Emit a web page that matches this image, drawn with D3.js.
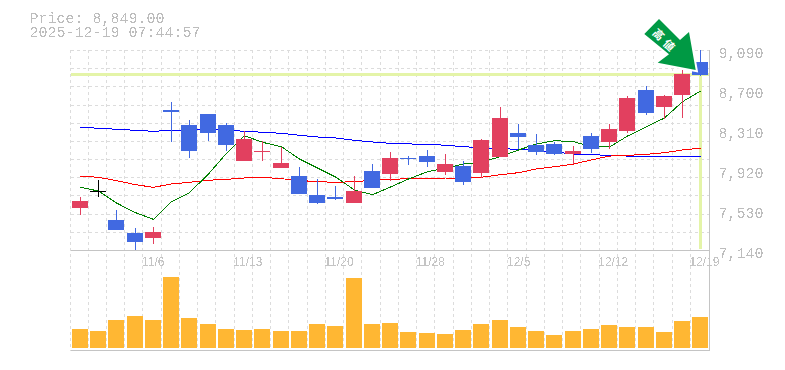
<!DOCTYPE html>
<html lang="en">
<head>
    <meta charset="UTF-8">
    <title>Price chart</title>
    <script src="https://d3js.org/d3.v7.min.js"></script>
    <style>
        body { margin: 0; background: #fff; }
        svg { display: block; }
        .mono { font-family: "Liberation Mono", monospace; font-size: 15px; fill: #bdbdbd; }
        .date { font-family: "Liberation Sans", sans-serif; font-size: 12px; fill: #c4c4c4; }
    </style>
</head>
<body>
    <div id="chart"></div>
    <script>
        const dates = ["10/30","10/31","11/4","11/5","11/6","11/7","11/10","11/11","11/12","11/13","11/14","11/17","11/18","11/19","11/20","11/21","11/25","11/26","11/27","11/28","12/1","12/2","12/3","12/4","12/5","12/8","12/9","12/10","12/11","12/12","12/15","12/16","12/17","12/18","12/19"];
        const opens = [7549,7715,7433,7306,7257,8505,8359,8466,8359,8008,8095,7939,7861,7676,7657,7598,7910,7881,8037,8056,7900,7959,7891,8047,8281,8164,8174,8076,8251,8193,8300,8700,8534,8651,8973];
        const closes = [7618,7715,7335,7218,7316,8485,8105,8281,8164,8222,8105,7988,7686,7598,7637,7715,7744,8037,8027,7998,7978,7803,8213,8427,8242,8095,8076,8105,8125,8320,8622,8476,8641,8856,8846];
        const highs = [7657,7822,7530,7354,7364,8583,8408,8466,8378,8300,8203,8144,7949,7832,7764,7861,7978,8095,8056,8115,8076,8008,8222,8534,8368,8271,8193,8154,8281,8368,8641,8739,8651,8895,9090];
        const lows = [7481,7657,7335,7140,7199,8193,8037,8203,8105,8008,8008,7939,7686,7588,7627,7598,7744,7813,7969,7949,7871,7774,7842,8047,8125,8066,8066,7978,8086,8125,8281,8456,8417,8427,8837];
        const blueMa = [8336,8327,8317,8307,8297,8307,8310,8314,8310,8297,8288,8278,8258,8242,8232,8210,8193,8180,8174,8171,8161,8147,8137,8128,8122,8110,8095,8076,8071,8061,8056,8056,8056,8056,8056];
        const redMa = [7859,7849,7816,7777,7751,7784,7800,7820,7829,7842,7849,7835,7818,7806,7800,7806,7820,7829,7835,7835,7842,7842,7849,7874,7894,7930,7952,7978,8018,8056,8063,8073,8089,8115,8134];
        const greenMa = [7751,7715,7598,7504,7439,7611,7699,7881,8083,8254,8190,8147,8027,7939,7852,7725,7679,7754,7832,7903,7939,7978,7998,8050,8115,8174,8206,8196,8147,8144,8251,8342,8427,8586,8690];
        const volumes = [19,17,28,32,28,71,30,24,19,18,19,17,17,24,22,70,24,25,16,15,14,18,24,28,21,17,13,17,19,23,21,21,16,27,31];
        const priceTicks = [7140,7530,7920,8310,8700,9090];
        const dateTicks = ["11/6","11/13","11/20","11/28","12/5","12/12","12/19"];
        const lastPrice = 8849;
        const title = ["Price: 8,849.00", "2025-12-19 07:44:57"];

        const width = 785, height = 370;
        const left = 70.5, right = 709.5, priceBottom = 250.5, priceTop = 50, volBottom = 350.5;
        const svg = d3.select("#chart").append("svg").attr("width", width).attr("height", height);

        // aliased text, the original is drawn without smoothing
        const filter = svg.append("defs").append("filter").attr("id", "hard")
            .attr("x", 0).attr("y", 0).attr("width", 1).attr("height", 1);
        filter.append("feComponentTransfer").append("feFuncA")
            .attr("type", "discrete").attr("tableValues", "0 1");

        const x = d3.scaleBand().domain(dates).range([70.85, 709.6]).paddingInner(0.124).paddingOuter(0.062);
        const y = d3.scaleLinear().domain([7140, 9090]).range([250, priceTop]);
        const yVol = d3.scaleLinear().domain([0, 100]).range([348, 248]);
        const barX = d => Math.round(x(d));
        const cx = d => barX(d) + 8.5;

        // grid
        const grid = svg.append("g").attr("stroke", "#dcdcdc").attr("stroke-dasharray", "3,3").attr("shape-rendering", "crispEdges");
        d3.range(0, 35).forEach(i => {
            const gx = Math.floor(70 + 18.245 * i) + 0.5;
            grid.append("line").attr("x1", gx).attr("x2", gx).attr("y1", priceTop).attr("y2", volBottom);
        });
        d3.range(1, 12).forEach(i => {
            const gy = Math.round(y(7140 + i * 1950 / 11)) + 0.5;
            grid.append("line").attr("x1", left).attr("x2", right).attr("y1", gy).attr("y2", gy);
        });

        // last price markers
        svg.append("line").attr("x1", left).attr("x2", right)
            .attr("y1", y(lastPrice)).attr("y2", y(lastPrice))
            .attr("stroke", "#e4f4a8").attr("stroke-width", 3).attr("shape-rendering", "crispEdges");
        svg.append("line").attr("x1", cx(dates[34])).attr("x2", cx(dates[34]))
            .attr("y1", y(lastPrice)).attr("y2", 249)
            .attr("stroke", "#e4f4a8").attr("stroke-width", 3).attr("shape-rendering", "crispEdges");

        // volume
        svg.append("g").selectAll("rect").data(dates).enter().append("rect")
            .attr("x", d => barX(d))
            .attr("width", 16)
            .attr("y", (d, i) => yVol(volumes[i]))
            .attr("height", (d, i) => 348 - yVol(volumes[i]))
            .attr("fill", "#ffb733");

        // moving averages
        const line = d3.line().x((v, i) => cx(dates[i])).y(v => y(v));
        [[blueMa, "#0000ff"], [redMa, "#ff0000"], [greenMa, "#008000"]].forEach(([vals, col]) => {
            svg.append("path").attr("d", line(vals)).attr("fill", "none")
                .attr("stroke", col).attr("stroke-width", 1).attr("shape-rendering", "crispEdges");
        });

        // candles, red closes higher, blue closes lower, black is unchanged
        const candleColor = i => closes[i] > opens[i] ? "#e2405f" : closes[i] < opens[i] ? "#4169e1" : "#000000";
        const candles = svg.append("g").attr("shape-rendering", "crispEdges");
        dates.forEach((d, i) => {
            const top = y(Math.max(opens[i], closes[i]));
            const bottom = y(Math.min(opens[i], closes[i]));
            candles.append("line").attr("x1", cx(d)).attr("x2", cx(d))
                .attr("y1", y(highs[i])).attr("y2", y(lows[i]))
                .attr("stroke", candleColor(i));
            candles.append("rect").attr("x", barX(d)).attr("width", 16)
                .attr("y", top)
                .attr("height", Math.max(bottom - top, 1))
                .attr("fill", candleColor(i));
        });

        // frame
        const frame = svg.append("g").attr("stroke", "#c4c4c4").attr("shape-rendering", "crispEdges");
        frame.append("line").attr("x1", left).attr("x2", right + 0.5).attr("y1", priceBottom).attr("y2", priceBottom);
        frame.append("line").attr("x1", left).attr("x2", right + 0.5).attr("y1", volBottom).attr("y2", volBottom);
        frame.append("line").attr("x1", right).attr("x2", right).attr("y1", priceTop).attr("y2", volBottom);

        // axes
        const yAxis = svg.append("g").attr("transform", `translate(${right},0)`)
            .call(d3.axisRight(y).tickValues(priceTicks).tickSize(0).tickPadding(9).tickFormat(d3.format(",")));
        yAxis.select(".domain").remove();
        yAxis.selectAll("text").attr("class", "mono").attr("filter", "url(#hard)").attr("dy", "0.5em");
        yAxis.attr("font-size", null).attr("font-family", null);

        const xAxis = svg.append("g").attr("transform", "translate(0,250)")
            .call(d3.axisBottom(x).tickValues(dateTicks).tickSize(0).tickPadding(6));
        xAxis.select(".domain").remove();
        xAxis.attr("font-size", null).attr("font-family", null);
        xAxis.selectAll("text").attr("class", "date").attr("filter", "url(#hard)").attr("text-anchor", "start").attr("dx", -11).attr("y", 16).attr("dy", 0);

        // header
        title.forEach((t, i) => {
            svg.append("text").attr("class", "mono").attr("x", 29.5).attr("y", 23 + i * 14)
                .attr("filter", "url(#hard)").text(t);
        });

        // arrow badge
        const badge = svg.append("g");
        badge.append("polygon")
            .attr("points", "659,19 644.3,34 669,54.3 657.7,62.7 695.7,70 689,32 680,40")
            .attr("fill", "#009944").attr("stroke", "#fff").attr("stroke-width", 4).attr("paint-order", "stroke");
        badge.append("text").attr("transform", "translate(665,41.5) rotate(45)")
            .attr("text-anchor", "middle").attr("dy", "0.35em")
            .attr("font-family", "Noto Sans CJK JP").attr("font-size", 11).attr("font-weight", 700)
            .attr("letter-spacing", 4)
            .attr("fill", "#fff").text("高値");
    </script>
</body>
</html>
